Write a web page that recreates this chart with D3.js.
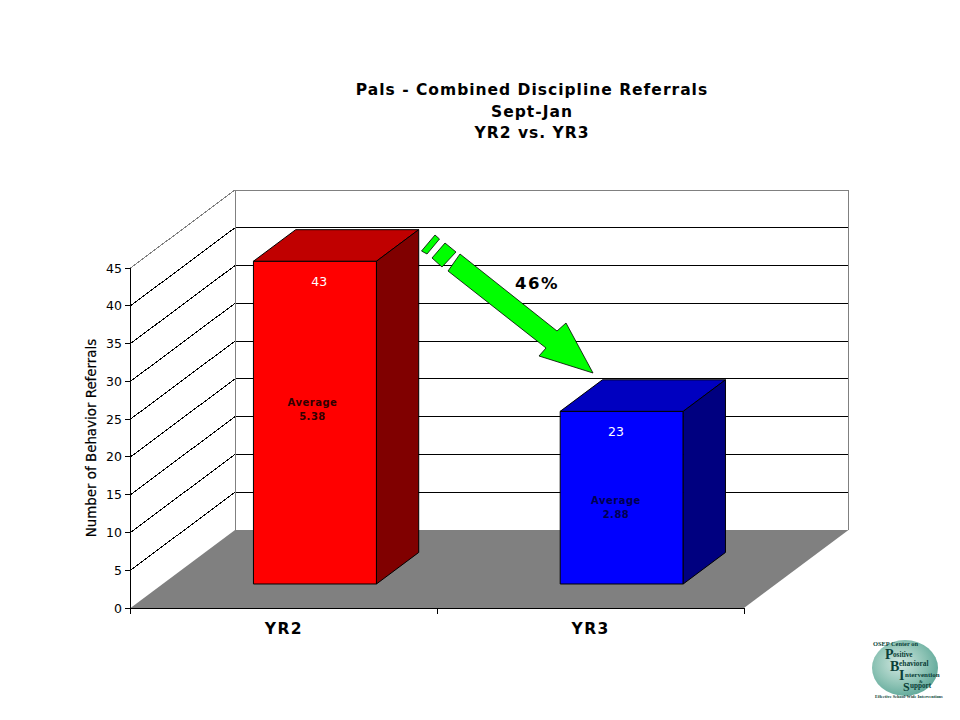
<!DOCTYPE html>
<html><head><meta charset="utf-8">
<script src="https://d3js.org/d3.v7.min.js"></script>
<style>html,body{margin:0;background:#fff}svg{display:block}text{font-family:"DejaVu Sans",Verdana,sans-serif}</style>
</head><body><svg id="c" width="960" height="720"></svg>
<script>
const titleLines=["Pals - Combined Discipline Referrals","Sept-Jan","YR2 vs. YR3"];
const categories=["YR2","YR3"];
const referrals=[43,23];
const averages=["5.38","2.88"];
const yTicks=[0,5,10,15,20,25,30,35,40,45];
const yTitle="Number of Behavior Referrals";
const changeLabel="46%";
const logoLetters=["P","B","I","S"];
const logoWords=["ositive","ehavioral","ntervention","upport"];

const svg=d3.select("#c");
const DX=104.5,DY=-78;
const x=d3.scaleBand().domain(categories).range([130.5,744]);
const y=d3.scaleLinear().domain([0,45]).range([608,268]);
const yBar=d3.scaleLinear().domain([0,45]).range([608,270.2]);
const P=(px,v,d,s)=>[px+d*DX,(s||y)(v)+d*DY];
const line=d3.line();
const seg=(pts,c)=>svg.append("path").attr("d",line(pts)).attr("stroke",c||"#000").attr("fill","none").attr("shape-rendering","crispEdges");
const poly=(pts,fill,stroke,sw)=>svg.append("path").attr("d",line(pts)+"Z").attr("fill",fill).attr("stroke",stroke||"none").attr("stroke-width",sw||1);
const [x0,x1]=x.range();
// back wall
poly([P(x0,0,1),P(x1,0,1),P(x1,45,1),P(x0,45,1)],"#fff","none");
// gridlines
yTicks.forEach(t=>{
 if(t>0){
  seg([P(x0,t,0),P(x0,t,1)],t===45?"#808080":"#000");
  seg([P(x0,t,1),P(x1,t,1)],t===45?"#808080":"#000");
 }
});
seg([P(x0,0,1),P(x0,45,1)],"#808080");
seg([P(x1,0,1),P(x1,45,1)],"#808080");
// floor
poly([P(x0,0,0),P(x1,0,0),P(x1,0,1),P(x0,0,1)],"#808080");
// bars
const zF=0.3077,zB=0.712,inset=0.296,bw=0.401;
const faces=[["#ff0000","#c00000","#800000"],["#0000ff","#0000c0","#000080"]];
const labelX=[319.3,616],avgX=[312.5,616],avgY=[406,503.5];
categories.forEach((c,i)=>{
 const l=x(c)+x.bandwidth()*inset, r=l+x.bandwidth()*bw, v=referrals[i], f=faces[i];
 poly([P(l,0,zF,yBar),P(r,0,zF,yBar),P(r,v,zF,yBar),P(l,v,zF,yBar)],f[0],"#000");
 poly([P(l,v,zF,yBar),P(r,v,zF,yBar),P(r,v,zB,yBar),P(l,v,zB,yBar)],f[1],"#000");
 poly([P(r,0,zF,yBar),P(r,0,zB,yBar),P(r,v,zB,yBar),P(r,v,zF,yBar)],f[2],"#000");
 svg.append("text").attr("x",labelX[i]).attr("y",P(l,v,zF,yBar)[1]+25).attr("text-anchor","middle").attr("fill","#fff").attr("font-size",12.5).text(v);
 const a=svg.append("text").attr("text-anchor","middle").attr("font-size",10).attr("font-weight","bold").attr("letter-spacing",0.5).attr("fill",i?"#000050":"#300000");
 a.append("tspan").attr("x",avgX[i]).attr("y",avgY[i]).text("Average");
 a.append("tspan").attr("x",avgX[i]).attr("y",avgY[i]+14).text(averages[i]);
});
// axes
seg([[x0,y(45)],[x0,y(0)+6]]);
seg([[x0,y(0)],[x1,y(0)]]);
yTicks.forEach(t=>{
 seg([[x0-6,y(t)],[x0,y(t)]]);
 svg.append("text").attr("x",x0-8.5).attr("y",y(t)+4.5).attr("text-anchor","end").attr("font-size",12.5).attr("fill","#000").text(t);
});
[x0,x0+x.bandwidth(),x1].forEach(px=>seg([[px,608],[px,614]]));
categories.forEach((c,i)=>svg.append("text").attr("x",x(c)+x.bandwidth()/2).attr("y",634).attr("text-anchor","middle").attr("font-size",15.5).attr("font-weight","bold").attr("letter-spacing",1.4).attr("fill","#000").text(c));
svg.append("text").attr("transform","translate(96,438) rotate(-90)").attr("text-anchor","middle").attr("font-size",13.4).attr("fill","#000").attr("stroke","#000").attr("stroke-width",0.2).text(yTitle);
// title
const titleY=[95,116.5,138];
titleLines.forEach((t,i)=>svg.append("text").attr("x",532).attr("y",titleY[i]).attr("text-anchor","middle").attr("font-size",15.5).attr("font-weight","bold").attr("letter-spacing",1).attr("fill","#000").text(t));
// arrow annotation
const green="#00ff00";
poly([[435,235],[439.5,239],[427,254],[421.5,251]],green,"#000",.8);
poly([[445,243],[456,252],[442,267],[432,258]],green,"#000",.8);
poly([[460,254],[557,331],[566,323],[593,373],[539,356],[546,348],[448,271]],green,"#000",.8);
svg.append("text").attr("x",537).attr("y",288.5).attr("text-anchor","middle").attr("font-size",16.5).attr("font-weight","bold").attr("letter-spacing",1.5).attr("fill","#000").text(changeLabel);
// logo
const defs=svg.append("defs");
const g=defs.append("radialGradient").attr("id","lg").attr("cx","42%").attr("cy","42%").attr("r","62%");
g.append("stop").attr("offset","0%").attr("stop-color","#d3e8e1");
g.append("stop").attr("offset","60%").attr("stop-color","#8fc4b6");
g.append("stop").attr("offset","100%").attr("stop-color","#5fa899");
svg.append("ellipse").attr("cx",905).attr("cy",668).attr("rx",33).attr("ry",28).attr("fill","url(#lg)");
const logoTxt=(t,px,py,fs)=>svg.append("text").attr("x",px).attr("y",py).attr("font-size",fs).attr("style","font-family:'Liberation Serif'").attr("font-weight","bold").attr("fill","#0c3f38").text(t);
logoTxt("OSEP Center on",873,646,6.4);
logoTxt("Effective School-Wide Interventions",875,697.5,4.4);
const lx=[885,890,899,903],ly=[659,671,680,691],wy=[657,666,677,688],wx=[893,899,905,910],ws=[7.2,7.4,7,7.2];
logoLetters.forEach((l,i)=>{logoTxt(l,lx[i],ly[i],i===3?12:14);logoTxt(logoWords[i],wx[i],wy[i],ws[i]);});
logoTxt("&",919,682.5,4.5);
</script></body></html>
